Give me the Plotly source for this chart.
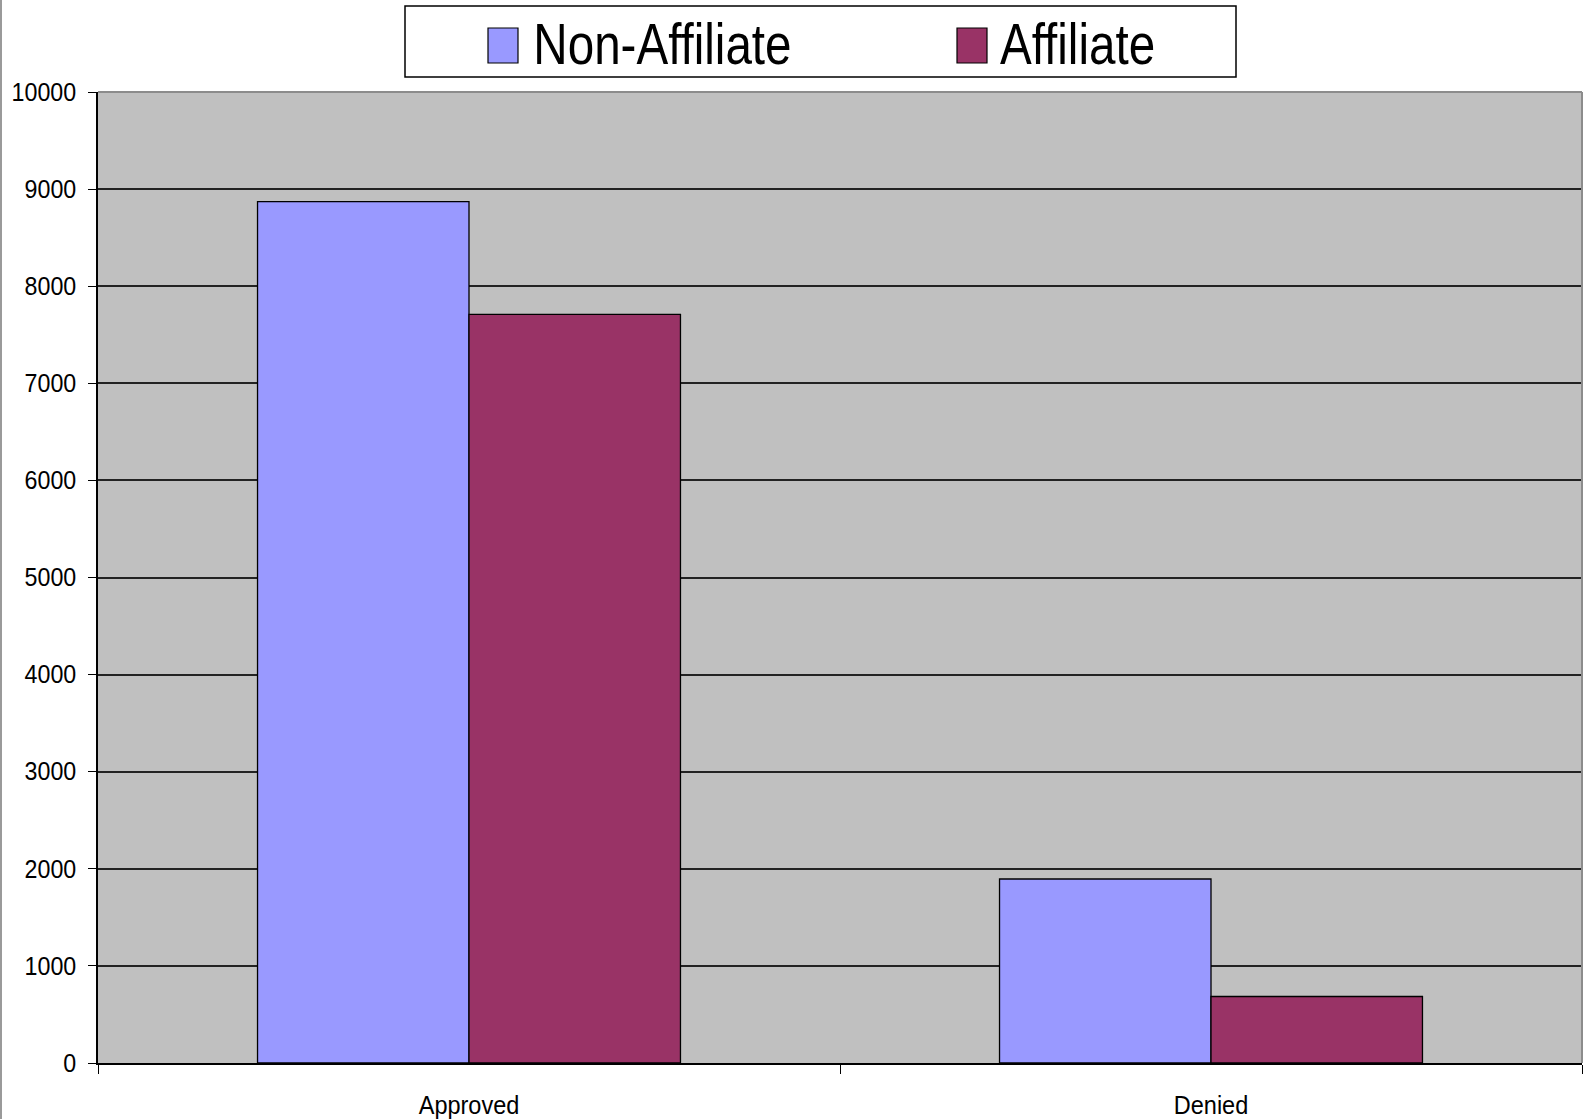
import plotly.graph_objects as go

# Loan decisions by applicant type
categories = ["Approved", "Denied"]
series_names = ["Non-Affiliate", "Affiliate"]
non_affiliate = [8870, 1895]
affiliate = [7710, 685]
series_colors = ["#9999FF", "#993366"]
y_ticks = [0, 1000, 2000, 3000, 4000, 5000, 6000, 7000, 8000, 9000, 10000]

FONT = "Liberation Sans, Arial, sans-serif"

W, H = 1590, 1119
L, R, T, B = 98, 8, 92, 56
plot_w = W - L - R
plot_h = H - T - B


def px_x(px):
    return (px - L) / plot_w


def px_y(py):
    return (H - B - py) / plot_h


fig = go.Figure()
for name, vals, col in zip(series_names, [non_affiliate, affiliate], series_colors):
    fig.add_trace(go.Bar(
        x=categories, y=vals, name=name,
        marker=dict(color=col, line=dict(color="#000000", width=1.3)),
        showlegend=False,
    ))

shapes = [
    # plot area border (top and right)
    dict(type="line", xref="paper", yref="paper", x0=0, x1=1, y0=1, y1=1,
         line=dict(color="#8c8c8c", width=2), layer="above"),
    dict(type="line", xref="paper", yref="paper", x0=1, x1=1, y0=0, y1=1,
         line=dict(color="#8c8c8c", width=2), layer="above"),
    # chart frame on the left edge
    dict(type="line", xref="paper", yref="paper", x0=px_x(1), x1=px_x(1),
         y0=px_y(H), y1=px_y(0), line=dict(color="#9a9a9a", width=2)),
    # legend box
    dict(type="rect", xref="paper", yref="paper",
         x0=px_x(405), x1=px_x(1236), y0=px_y(77), y1=px_y(6),
         line=dict(color="#000000", width=1.5), fillcolor="white"),
]

annotations = []
swatch_left = [488, 957]
text_center = [662, 1077]
for name, col, sx, tx in zip(series_names, series_colors, swatch_left, text_center):
    shapes.append(dict(type="rect", xref="paper", yref="paper",
                       x0=px_x(sx), x1=px_x(sx + 30), y0=px_y(63), y1=px_y(28),
                       fillcolor=col, line=dict(color="#000000", width=1.2)))
    annotations.append(dict(xref="paper", yref="paper", x=px_x(tx), y=px_y(44),
                            xanchor="center", yanchor="middle", showarrow=False,
                            text=name, font=dict(family=FONT, size=58, color="#000000")))

fig.update_layout(
    width=W, height=H,
    margin=dict(l=L, r=R, t=T, b=B, pad=0, autoexpand=False),
    paper_bgcolor="white",
    plot_bgcolor="#C0C0C0",
    barmode="group",
    bargap=0.43,
    bargroupgap=0,
    showlegend=False,
    shapes=shapes,
    annotations=annotations,
    font=dict(family=FONT, color="#000000"),
    xaxis=dict(
        automargin=False,
        showline=True, linecolor="#000000", linewidth=2,
        ticks="outside", tickson="boundaries", ticklen=9, tickcolor="#000000", tickwidth=1,
        tickfont=dict(family=FONT, size=25, color="#000000"),
        showgrid=False, zeroline=False,
        ticklabelstandoff=19,
    ),
    yaxis=dict(
        automargin=False,
        range=[0, 10000], tickvals=y_ticks, ticktext=[str(v) for v in y_ticks],
        showline=True, linecolor="#000000", linewidth=1.5,
        ticks="outside", ticklen=8, tickcolor="#000000", tickwidth=1,
        tickfont=dict(family=FONT, size=25, color="#000000"),
        showgrid=True, gridcolor="#222222", gridwidth=1.5,
        zeroline=False,
        ticklabelstandoff=7,
    ),
)

# Slightly condensed lettering for axis labels and legend entries
squeeze_js = """
var gd = document.getElementById('{plot_id}');
function squeeze(sel, ratio) {
  gd.querySelectorAll(sel).forEach(function (el) {
    var w = el.getComputedTextLength();
    el.setAttribute('textLength', (w * ratio).toFixed(2));
    el.setAttribute('lengthAdjust', 'spacingAndGlyphs');
  });
}
squeeze('.xtick text', 0.94);
squeeze('.ytick text', 0.93);
squeeze('.annotation-text', 0.82);
"""

fig.write_html("out.html", post_script=squeeze_js)
